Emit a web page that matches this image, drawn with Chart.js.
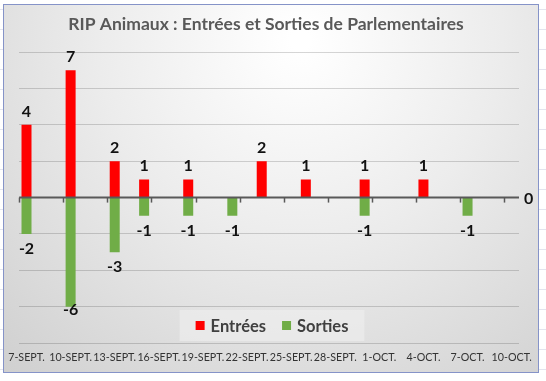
<!DOCTYPE html>
<html>
<head>
<meta charset="utf-8">
<script src="https://cdn.jsdelivr.net/npm/chart.js@4/dist/chart.umd.min.js"></script>
<style>
  html, body { margin: 0; padding: 0; background: #ffffff; }
  #wrap { position: relative; width: 546px; height: 381px;
    background-image:
      repeating-linear-gradient(to bottom, transparent 0px, transparent 9px, #e3e5ee 9px, #e3e5ee 10px, transparent 10px, transparent 20px); }
  canvas { display: block; }
</style>
</head>
<body>
<div id="wrap"><canvas id="c" width="546" height="381"></canvas></div>
<script>
// One category per day, 7 Sept -> 10 Oct
const categories = [
  '7-SEPT.', '8-SEPT.', '9-SEPT.', '10-SEPT.', '11-SEPT.', '12-SEPT.', '13-SEPT.',
  '14-SEPT.', '15-SEPT.', '16-SEPT.', '17-SEPT.', '18-SEPT.', '19-SEPT.', '20-SEPT.',
  '21-SEPT.', '22-SEPT.', '23-SEPT.', '24-SEPT.', '25-SEPT.', '26-SEPT.', '27-SEPT.',
  '28-SEPT.', '29-SEPT.', '30-SEPT.', '1-OCT.', '2-OCT.', '3-OCT.', '4-OCT.',
  '5-OCT.', '6-OCT.', '7-OCT.', '8-OCT.', '9-OCT.', '10-OCT.'
];
// Tick labels shown on the axis (every 3 days)
const tickLabels = ['7-SEPT.', '10-SEPT.', '13-SEPT.', '16-SEPT.', '19-SEPT.', '22-SEPT.',
  '25-SEPT.', '28-SEPT.', '1-OCT.', '4-OCT.', '7-OCT.', '10-OCT.'];

const entrees = [
  4, null, null, 7, null, null, 2, null, 1, null, null, 1, null, null,
  null, null, 2, null, null, 1, null, null, null, 1, null, null, null, 1,
  null, null, null, null, null, null
];
const sorties = [
  -2, null, null, -6, null, null, -3, null, -1, null, null, -1, null, null,
  -1, null, null, null, null, null, null, null, null, -1, null, null, null, null,
  null, null, -1, null, null, 0
];

const seriesNames = ['Entrées', 'Sorties'];
const seriesColors = ['#ff0000', '#70ad47'];
const titleText = 'RIP Animaux : Entrées et Sorties de Parlementaires';
const FONT = 'Lato, "Open Sans", sans-serif';

const bgPlugin = {
  id: 'bg',
  beforeDraw(chart) {
    const ctx = chart.ctx;
    const x0 = 3.5, y0 = 4.5, x1 = 538.5, y1 = 372.5;
    ctx.save();
    const g = ctx.createRadialGradient(300, 40, 10, 300, 40, 560);
    g.addColorStop(0, '#ffffff');
    g.addColorStop(0.35, '#ececec');
    g.addColorStop(0.75, '#d2d2d2');
    g.addColorStop(1, '#c4c4c4');
    ctx.fillStyle = g;
    ctx.fillRect(x0, y0, x1 - x0, y1 - y0);
    ctx.strokeStyle = '#8593c8';
    ctx.lineWidth = 1;
    ctx.strokeRect(x0, y0, x1 - x0, y1 - y0);
    ctx.restore();
  }
};

const axisPlugin = {
  id: 'zeroAxis',
  afterDatasetsDraw(chart) {
    const ctx = chart.ctx;
    const xs = chart.scales.x, ys = chart.scales.y;
    const yz = ys.getPixelForValue(0);
    const left = chart.chartArea.left, right = chart.chartArea.right;
    ctx.save();
    ctx.strokeStyle = '#595959';
    ctx.lineWidth = 2;
    ctx.beginPath();
    ctx.moveTo(left, yz);
    ctx.lineTo(right, yz);
    ctx.stroke();
    // tick marks every 3 days at slot boundaries
    ctx.lineWidth = 1.5;
    const half = (xs.getPixelForValue(1) - xs.getPixelForValue(0)) / 2;
    categories.forEach((c, i) => {
      if (tickLabels.includes(c)) {
        const x = Math.round(xs.getPixelForValue(i) - half) + 0.5;
        ctx.beginPath();
        ctx.moveTo(x, yz);
        ctx.lineTo(x, yz + 5);
        ctx.stroke();
      }
    });
    ctx.restore();
  }
};

const labelPlugin = {
  id: 'valueLabels',
  afterDatasetsDraw(chart) {
    const ctx = chart.ctx;
    const ys = chart.scales.y;
    const yz = ys.getPixelForValue(0);
    ctx.save();
    ctx.font = 'bold 16px ' + FONT;
    ctx.fillStyle = '#111111';
    ctx.textAlign = 'center';
    ctx.textBaseline = 'alphabetic';
    chart.data.datasets.forEach((ds, di) => {
      const meta = chart.getDatasetMeta(di);
      meta.data.forEach((el, i) => {
        const v = ds.data[i];
        if (v === null || v === undefined) return;
        if (v > 0) {
          ctx.fillText(String(v), el.x, el.y - 8);
        } else if (v < 0) {
          ctx.fillText(String(v), el.x, Math.min(el.y + 20, chart.chartArea.bottom - 28));
        } else {
          ctx.textAlign = 'left';
          ctx.textBaseline = 'middle';
          ctx.fillText('0', chart.chartArea.right + 5, yz + 1);
          ctx.textAlign = 'center';
          ctx.textBaseline = 'alphabetic';
        }
      });
    });
    ctx.restore();
  }
};

const legendPlugin = {
  id: 'innerLegend',
  afterDraw(chart) {
    const ctx = chart.ctx;
    ctx.save();
    ctx.font = 'bold 16.5px ' + FONT;
    const sq = 9, gapSq = 6, gapItem = 16, padX = 16;
    const widths = seriesNames.map(n => ctx.measureText(n).width);
    let total = padX * 2 + gapItem;
    widths.forEach(w => total += sq + gapSq + w);
    const cx = 272;
    const bx = cx - total / 2, by = 310, bh = 31;
    ctx.fillStyle = 'rgba(240,240,240,0.55)';
    ctx.fillRect(bx, by, total, bh);
    let x = bx + padX;
    const ym = by + bh / 2;
    seriesNames.forEach((n, i) => {
      ctx.fillStyle = seriesColors[i];
      ctx.fillRect(x, ym - sq / 2, sq, sq);
      x += sq + gapSq;
      ctx.fillStyle = '#404040';
      ctx.textBaseline = 'middle';
      ctx.textAlign = 'left';
      ctx.fillText(n, x, ym + 1);
      x += widths[i] + gapItem;
    });
    ctx.restore();
  }
};

new Chart(document.getElementById('c'), {
  type: 'bar',
  data: {
    labels: categories,
    datasets: [
      { label: seriesNames[0], data: entrees, backgroundColor: seriesColors[0] },
      { label: seriesNames[1], data: sorties, backgroundColor: seriesColors[1] }
    ]
  },
  plugins: [bgPlugin, axisPlugin, labelPlugin, legendPlugin],
  options: {
    responsive: false,
    animation: false,
    events: [],
    layout: { padding: { left: 13, right: 27, top: 0, bottom: 9 } },
    datasets: { bar: { categoryPercentage: 1, barPercentage: 0.68 } },
    plugins: {
      legend: { display: false },
      tooltip: { enabled: false },
      title: {
        display: true,
        text: titleText,
        color: '#595959',
        font: { family: FONT, size: 17.5, weight: 'bold' },
        padding: { top: 14, bottom: 17 }
      }
    },
    scales: {
      x: {
        stacked: true,
        grid: { display: false, drawTicks: false },
        border: { display: false },
        ticks: {
          autoSkip: false,
          maxRotation: 0,
          padding: 8,
          color: '#333333',
          font: { family: FONT, size: 10.7 },
          callback: (v, i) => tickLabels.includes(categories[i]) ? categories[i] : ''
        }
      },
      y: {
        stacked: true,
        min: -8,
        max: 8,
        grid: {
          color: 'rgba(0,0,0,0.16)',
          drawTicks: false
        },
        border: { display: false },
        ticks: { display: false, stepSize: 2 }
      }
    }
  }
});
</script>
</body>
</html>
